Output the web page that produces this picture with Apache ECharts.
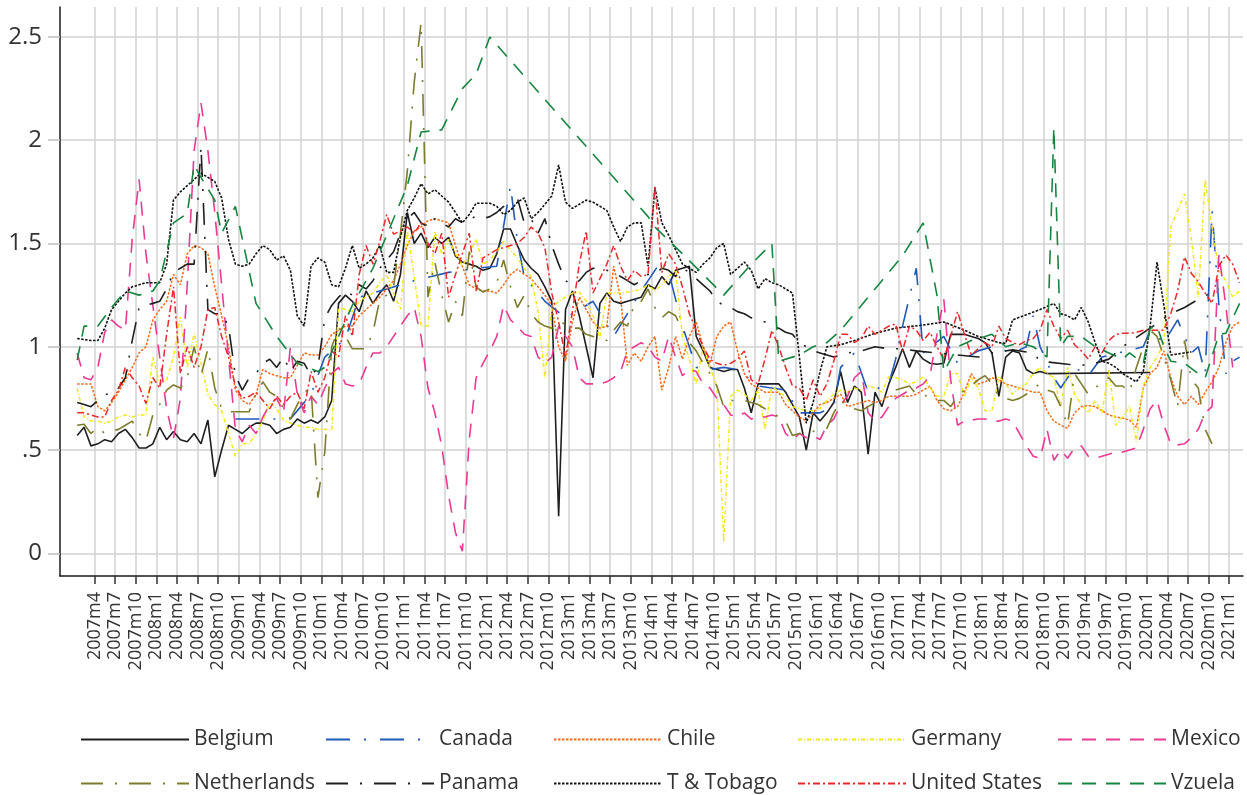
<!DOCTYPE html>
<html>
<head>
<meta charset="utf-8">
<script src="https://cdn.jsdelivr.net/npm/echarts@6/dist/echarts.min.js"></script>
<style>
  html, body { margin: 0; padding: 0; background: #fff; }
  #chart { width: 1247px; height: 795px; }
</style>
</head>
<body>
<div id="chart"></div>
<script>
const N = null
// monthly values, first entry = 2007m1, one row per year
const belgium = [
  0.57, 0.61, 0.52, 0.53, 0.55, 0.54, 0.58, 0.60, 0.56, 0.51, 0.51, 0.53,
  0.61, 0.55, 0.59, 0.55, 0.54, 0.58, 0.53, 0.645, 0.37, 0.50, 0.62, 0.60,
  0.58, 0.61, 0.63, 0.63, 0.62, 0.58, 0.60, 0.61, 0.65, 0.63, 0.645, 0.63,
  0.66, 0.74, 1.21, 1.25, 1.22, 1.17, 1.27, 1.21, 1.26, 1.30, 1.22, 1.35,
  1.65, 1.50, 1.55, 1.48, 1.53, 1.50, 1.53, 1.44, 1.41, 1.40, 1.39, 1.37,
  1.38, 1.45, 1.57, 1.57, 1.49, 1.42, 1.38, 1.35, 1.29, 1.22, 0.18, 1.18,
  1.27, 1.15, 1.00, 0.85, 1.21, 1.26, 1.22, 1.21, 1.22, 1.23, 1.24, 1.30,
  1.28, 1.34, 1.30, 1.37, 1.38, 1.39, 1.05, 0.98, 0.90, 0.89, 0.88, 0.89,
  0.89, 0.80, 0.68, 0.82, 0.82, 0.82, 0.82, 0.78, 0.72, 0.66, 0.50, 0.68,
  0.64, 0.68, 0.73, 0.88, 0.73, 0.81, 0.78, 0.48, 0.78, 0.71, 0.82, 0.90,
  0.99, 0.90, 0.98, 0.94, 0.92, 0.915, 0.92, 1.06, 1.06, 1.06, 1.05, 1.04,
  1.02, 0.97, 0.76, 0.95, 0.98, 0.97, 0.89, 0.87, 0.88, 0.87, N, N,
  N, N, N, N, N, N, N, N, N, N, N, N,
  0.875, N, N, N, N, N, N, N, N, N, N, N,
  N, N
]
const canada = [
  N, N, N, N, N, N, N, N, N, N, N, N,
  N, N, N, N, N, N, N, N, N, N, N, 0.65,
  N, N, N, 0.65, N, N, N, 0.65, N, N, 0.77, N,
  0.95, N, N, 1.04, N, 1.24, N, N, 1.27, N, N, N,
  N, 1.32, N, N, N, N, 1.36, N, N, N, 1.38, N,
  N, 1.39, N, 1.78, 1.51, 1.34, N, N, 1.22, N, N, 1.14,
  N, N, N, 1.22, N, N, 1.05, N, N, N, 1.27, 1.32,
  N, 1.42, 1.36, N, 1.10, N, 0.90, N, 0.89, N, 0.90, N,
  0.89, N, N, 0.81, N, N, N, 0.79, N, 0.68, N, N,
  0.68, N, 0.71, 0.90, N, 0.97, N, 0.78, N, N, 0.82, 0.94,
  1.10, N, 1.38, 0.97, N, N, 1.05, N, 0.92, N, N, 0.98,
  N, 1.00, N, N, 0.97, N, 1.00, 1.15, 1.00, N, 0.85, 0.80,
  N, 0.90, N, 0.86, N, 0.95, N, N, N, N, N, 1.00,
  1.08, N, 1.02, N, 1.13, N, 0.97, 1.00, 0.87, 1.66, 1.20, 0.87,
  0.93, 0.95
]
const chile = [
  0.82, 0.82, 0.82, 0.71, 0.69, 0.73, 0.78, 0.84, 0.90, 0.97, 1.00, 1.13,
  1.18, 1.22, 1.35, 1.30, 1.45, 1.49, 1.48, 1.45, 1.29, 1.15, 1.00, 0.79,
  0.74, 0.72, 0.77, 0.89, 0.87, 0.86, 0.85, 0.85, 0.91, 0.97, 0.96, 0.96,
  1.00, 1.06, 1.08, 1.10, 1.10, 1.15, 1.18, 1.21, 1.24, 1.28, 1.32, 1.40,
  1.49, 1.56, 1.58, 1.61, 1.62, 1.61, 1.60, 1.49, 1.39, 1.30, 1.28, 1.27,
  1.27, 1.26, 1.30, 1.35, 1.375, 1.35, 1.33, 1.29, 1.25, 1.20, 1.00, 0.93,
  1.12, 1.24, 1.18, 1.12, 1.09, 1.10, 1.39, 1.24, 0.91, 0.97, 0.93, 1.00,
  1.05, 0.79, 0.90, 1.05, 0.94, 1.05, 1.12, 1.00, 0.92, 1.05, 1.10, 1.12,
  0.98, 0.87, 0.82, 0.80, 0.78, 0.78, 0.78, 0.72, 0.69, 0.66, 0.64, 0.68,
  0.72, 0.73, 0.75, 0.77, 0.71, 0.72, 0.73, 0.74, 0.73, 0.74, 0.76, 0.76,
  0.76, 0.76, 0.77, 0.79, 0.81, 0.74, 0.70, 0.69, 0.71, 0.78, 0.87, 0.82,
  0.83, 0.85, 0.84, 0.82, 0.81, 0.80, 0.79, 0.78, 0.78, 0.69, 0.64, 0.62,
  0.605, 0.68, 0.71, 0.716, 0.71, 0.69, 0.67, 0.66, 0.655, 0.645, 0.61, 0.80,
  0.87, 0.90, 0.98, 0.85, 0.76, 0.72, 0.76, 0.72, 0.78, 0.83, 0.90, 1.02,
  1.10, 1.12
]
const germany = [
  0.80, 0.66, 0.64, 0.64, 0.63, 0.64, 0.66, 0.67, 0.66, 0.67, 0.67, 0.95,
  0.82, 0.84, 0.95, 1.145, 0.90, 1.065, 0.92, 0.77, 0.72, 0.69, 0.58, 0.47,
  0.53, 0.53, 0.58, 0.64, 0.73, 0.70, 0.645, 0.63, 0.62, 0.61, 0.61, 0.60,
  0.60, 0.595, 1.19, 1.18, 1.17, 1.22, 1.24, 1.26, 1.31, 1.35, 1.26, 1.18,
  1.56, 1.34, 1.10, 1.10, 1.56, 1.45, 1.52, 1.45, 1.39, 1.45, 1.52, 1.40,
  1.42, 1.46, 1.51, 1.47, 1.43, 1.38, 1.34, 1.17, 0.85, 1.19, 1.22, 1.24,
  1.26, 1.265, 1.22, 1.15, 1.04, 1.26, 1.26, 1.26, 1.265, 1.27, 1.28, 1.30,
  1.27, 1.30, 1.34, 1.37, 1.05, 0.94, 0.82, 1.00, 0.90, 0.81, 0.056, 0.76,
  0.79, 0.77, 0.74, 0.79, 0.60, 0.81, 0.78, 0.76, 0.71, 0.70, 0.69, 0.69,
  0.70, 0.74, 0.77, 0.79, 0.78, 0.80, 0.79, 0.81, 0.80, 0.78, 0.855, 0.85,
  0.84, 0.82, 0.83, 0.855, 0.80, 0.76, 0.76, 0.87, 0.87, 0.76, 0.85, 0.80,
  0.69, 0.69, 0.855, 0.82, 0.77, 0.80, 0.82, 0.87, 0.90, 0.87, 0.85, 0.71,
  0.90, 0.77, 0.72, 0.68, 0.74, 0.68, 0.89, 0.62, 0.66, 0.71, 0.54, 0.81,
  0.90, 0.95, 1.02, 1.58, 1.66, 1.74, 1.52, 1.24, 1.81, 1.58, 1.37, 1.32,
  1.24, 1.27
]
const mexico = [
  0.97, 0.85, 0.84, 0.90, 1.07, 1.13, 1.10, 1.08, 1.52, 1.81, 1.45, 1.20,
  0.95, 0.70, 0.555, 0.75, 1.30, 1.95, 2.18, 1.95, 1.65, 1.30, 0.95, 0.60,
  0.54, 0.62, 0.58, 0.66, 0.72, 0.75, 0.68, 1.00, 0.77, 0.68, 0.76, 0.72,
  0.80, 0.87, 0.90, 0.82, 0.81, 0.82, 0.90, 0.97, 0.97, 1.00, 1.05, 1.10,
  1.15, 1.19, 1.05, 0.80, 0.68, 0.52, 0.28, 0.10, 0.01, 0.55, 0.85, 0.92,
  0.98, 1.05, 1.20, 1.13, 1.10, 1.06, 1.05, 0.95, 0.92, 0.95, 1.10, 1.05,
  1.00, 0.85, 0.82, 0.82, 0.82, 0.83, 0.85, 0.88, 0.98, 1.00, 1.02, 1.00,
  0.95, 0.93, 1.05, 0.95, 0.86, 0.89, 0.88, 0.82, 0.80, 0.75, 0.72, 0.67,
  0.66, 0.68, 0.65, 0.66, 0.66, 0.67, 0.66, 0.58, 0.55, 0.58, 0.56, 0.57,
  0.55, 0.62, 0.65, 0.72, 0.76, 0.85, 0.88, 0.68, 0.64, 0.66, 0.71, 0.75,
  0.77, 0.79, 0.80, 0.82, 0.86, 1.06, 1.23, 0.84, 0.62, 0.64, 0.645, 0.65,
  0.65, 0.64, 0.64, 0.65, 0.64, 0.58, 0.52, 0.47, 0.46, 0.60, 0.45, 0.50,
  0.46, 0.51, 0.52, 0.47, 0.46, 0.47, 0.48, 0.49, 0.49, 0.50, 0.51, 0.60,
  0.70, 0.74, 0.62, 0.53, 0.525, 0.53, 0.56, 0.60, 0.68, 0.71, 1.45, 1.20,
  0.90, N
]
const netherlands = [
  0.62, 0.625, 0.58, 0.61, 0.58, 0.59, 0.60, 0.62, 0.64, 0.58, 0.545, 0.67,
  0.72, 0.79, 0.815, 0.80, 0.85, 1.00, 0.86, 0.99, 0.80, 0.70, 0.685, 0.685,
  0.685, 0.685, 0.77, 0.83, 0.78, 0.76, 0.70, 0.65, 0.72, 0.78, 0.80, 0.27,
  0.49, 1.00, 1.09, 1.05, 0.99, 0.99, 0.99, 1.07, 1.23, 1.25, 1.29, 1.55,
  1.85, 2.28, 2.57, 1.24, 1.41, 1.25, 1.12, 1.22, 1.15, 1.46, 1.29, 1.265,
  1.28, 1.31, 1.42, 1.29, 1.19, 1.25, 1.16, 1.12, 1.10, 1.09, 1.12, 1.11,
  1.09, 1.09, 1.06, 1.05, 1.045, 1.03, 1.08, 1.12, 1.10, 1.205, 1.22, 1.28,
  1.19, 1.14, 1.17, 1.15, 1.08, 1.02, 0.98, 0.92, 0.87, 0.81, 0.71, 0.74,
  0.74, 0.74, 0.73, 0.72, 0.70, 0.68, 0.66, 0.64, 0.57, 0.58, 0.58, 0.59,
  0.60, 0.605, 0.68, 0.74, 0.71, 0.70, 0.69, 0.71, 0.73, 0.75, 0.76, 0.79,
  0.80, 0.81, 0.77, 0.77, 0.75, 0.74, 0.74, 0.71, 0.76, 0.79, 0.81, 0.84,
  0.86, 0.82, 0.76, 0.75, 0.74, 0.75, 0.77, 0.80, 0.82, 0.79, 0.78, 0.71,
  0.62, 0.87, 0.82, 0.77, 0.80, 0.83, 0.85, 0.81, 0.81, 0.78, 0.90, 1.00,
  1.08, 1.05, 0.95, 0.84, 0.71, 1.03, 0.84, 0.80, 0.60, 0.53, N, N,
  N, N
]
const panama = [
  0.73, 0.72, 0.71, 0.74, 0.77, 0.77, 0.80, 0.85, 1.03, 1.19, 1.20, 1.21,
  1.22, 1.28, 1.36, 1.38, 1.40, 1.40, 1.97, 1.18, 1.16, 1.16, 1.10, 0.86,
  0.79, 0.85, 0.87, 0.92, 0.94, 0.90, 0.95, 0.88, 0.93, 0.92, 0.86, 0.90,
  1.14, 1.20, 1.24, 1.27, 1.25, 1.30, 1.28, 1.32, 1.38, 1.42, 1.46, 1.55,
  1.62, 1.65, 1.60, 1.58, 1.62, 1.60, 1.58, 1.62, 1.60, 1.62, 1.63, 1.62,
  1.63, 1.65, 1.68, 1.65, 1.72, 1.60, 1.62, 1.55, 1.62, 1.49, 1.40, 1.32,
  1.30, 1.32, 1.36, 1.38, 1.38, 1.37, 1.36, 1.34, 1.32, 1.30, 1.32, 1.35,
  1.35, 1.38, 1.37, 1.34, 1.38, 1.36, 1.33, 1.30, 1.27, 1.22, 1.20, 1.19,
  1.17, 1.16, 1.14, 1.13, 1.12, 1.10, 1.09, 1.07, 1.06, 1.02, 1.00, 0.98,
  0.97, N, 0.95, N, 0.97, N, 0.98, N, 1.00, N, 0.99, N,
  0.99, N, 0.98, N, N, 0.97, N, N, 0.96, N, N, 0.95,
  N, 0.97, N, N, 0.985, N, N, 0.97, 0.93, N, N, N,
  0.915, N, N, 0.91, N, N, 0.94, N, 1.00, N, N, N,
  1.09, N, N, 1.16, N, 1.19, N, 1.23, N, N, 1.28, N,
  N, N
]
const tTobago = [
  1.04, 1.035, 1.03, 1.03, 1.09, 1.18, 1.22, 1.26, 1.29, 1.30, 1.31, 1.31,
  1.31, 1.40, 1.71, 1.75, 1.78, 1.81, 1.84, 1.82, 1.80, 1.72, 1.52, 1.40,
  1.39, 1.40, 1.45, 1.49, 1.47, 1.42, 1.44, 1.37, 1.15, 1.10, 1.39, 1.43,
  1.41, 1.30, 1.29, 1.38, 1.49, 1.38, 1.40, 1.43, 1.49, 1.36, 1.36, 1.53,
  1.66, 1.72, 1.79, 1.74, 1.76, 1.73, 1.70, 1.65, 1.60, 1.64, 1.695, 1.695,
  1.695, 1.68, 1.64, 1.66, 1.70, 1.72, 1.62, 1.65, 1.69, 1.73, 1.88, 1.70,
  1.67, 1.69, 1.71, 1.70, 1.68, 1.66, 1.58, 1.51, 1.58, 1.60, 1.60, 1.39,
  1.77, 1.60, 1.54, 1.47, 1.40, 1.38, 1.36, 1.40, 1.43, 1.48, 1.50, 1.35,
  1.38, 1.41, 1.37, 1.28, 1.33, 1.31, 1.30, 1.28, 1.26, 0.95, 0.63, 0.73,
  0.88, 1.00, N, 1.01, N, 1.03, N, N, 1.065, N, N, 1.09,
  N, N, N, 1.105, N, N, 1.12, N, N, 1.08, N, 1.05,
  N, N, 1.02, 1.016, 1.13, N, 1.155, N, 1.18, N, 1.21, 1.16,
  1.15, 1.13, 1.19, 1.12, 1.02, 0.93, 0.92, 0.90, 0.87, 0.85, 0.83, 0.88,
  1.10, 1.41, 1.20, 0.96, N, N, 0.975, N, N, N, N, N,
  N, N
]
const unitedStates = [
  0.68, 0.68, 0.67, 0.66, 0.66, 0.74, 0.79, 0.90, 0.85, 0.81, 0.725, 0.85,
  0.80, 1.06, 1.29, 0.87, 1.00, 0.90, 1.00, 1.18, 1.19, 1.05, 0.95, 0.81,
  0.75, 0.76, 0.78, 0.74, 0.70, 0.76, 0.72, 0.76, 0.78, 0.70, 0.88, 0.78,
  0.85, 0.98, 0.95, 1.15, 1.05, 1.35, 1.49, 1.40, 1.51, 1.64, 1.545, 1.56,
  1.58, 1.55, 1.60, 1.50, 1.45, 1.55, 1.24, 1.35, 1.45, 1.55, 1.27, 1.43,
  1.45, 1.47, 1.48, 1.49, 1.50, 1.53, 1.58, 1.55, 1.48, 1.26, 1.12, 0.95,
  1.17, 1.40, 1.56, 1.26, 1.33, 1.40, 1.49, 1.39, 1.32, 1.37, 1.34, 1.35,
  1.78, 1.36, 1.45, 1.40, 1.29, 1.16, 1.08, 1.00, 0.94, 0.92, 0.91, 0.92,
  0.94, 0.98, 0.84, 0.82, 0.94, 1.08, 1.00, 0.90, 0.81, 0.80, 0.74, 0.84,
  0.76, 0.82, 0.93, 1.06, 1.06, 1.02, 1.04, 1.10, 1.06, 1.08, 1.10, 1.11,
  0.98, 1.10, 1.08, 1.03, 1.07, 1.00, 0.94, 1.05, 1.17, 1.06, 0.96, 0.99,
  1.02, 1.00, 1.10, 1.04, 1.02, 1.01, 1.03, 1.04, 1.08, 1.18, 1.10, 1.04,
  1.08, 1.01, 0.98, 0.94, 1.00, 0.97, 1.03, 1.06, 1.065, 1.065, 1.07, 1.08,
  1.08, 1.08, 1.08, 1.16, 1.27, 1.435, 1.355, 1.315, 1.26, 1.21, 1.39, 1.445,
  1.40, 1.31
]
const vzuela = [
  0.935, 1.10, N, 1.10, N, 1.19, N, 1.27, N, 1.25, N, 1.27,
  1.32, N, 1.60, N, 1.645, 1.88, 1.82, N, 1.71, 1.55, N, 1.68,
  N, N, 1.21, N, N, 1.05, N, N, 0.92, N, N, 0.88,
  0.90, N, N, N, 1.20, N, N, 1.38, N, N, 1.62, N,
  1.78, N, 2.04, N, N, 2.05, N, N, 2.25, N, 2.32, N,
  2.50, N, N, N, N, N, N, N, N, N, N, N,
  N, N, N, N, N, N, N, N, N, N, N, 1.63,
  1.58, N, N, N, 1.45, N, N, 1.35, N, N, 1.25, N,
  N, N, 1.40, N, N, 1.50, 0.93, N, N, 0.96, N, 1.00,
  N, 1.02, N, 1.08, N, N, 1.20, N, N, 1.32, N, N,
  1.44, N, N, 1.60, N, 1.25, 0.88, N, 1.00, N, 1.03, N,
  1.05, 1.06, N, 1.00, N, 1.02, N, 1.00, N, 0.95, 2.06, 1.00,
  1.05, N, 1.05, N, 1.00, N, 0.97, N, 0.94, 0.97, N, 0.92,
  1.09, 1.10, 1.00, 0.93, N, 0.92, N, 0.87, 0.85, N, 1.06, 1.065,
  N, 1.21
]

const countries = ['Belgium', 'Canada', 'Chile', 'Germany', 'Mexico',
  'Netherlands', 'Panama', 'T & Tobago', 'United States', 'Vzuela']
const values = [belgium, canada, chile, germany, mexico,
  netherlands, panama, tTobago, unitedStates, vzuela]

const yTicks = [0, 0.5, 1, 1.5, 2, 2.5]
// tick months counted from 2007m1: 2007m4 ... 2021m1 every quarter
const xTicks = []
for (let m = 3; m <= 168; m += 3) xTicks.push(m)
const monthLabel = m => (2007 + Math.floor(m / 12)) + 'm' + (m % 12 + 1)

const lineStyles = [
  { color: '#1f1f1f', width: 1.6, type: 'solid' },
  { color: '#2159b8', width: 1.6, type: [24, 14, 2, 14] },
  { color: '#f36c1d', width: 1.5, type: [2.5, 1.5] },
  { color: '#f2e71a', width: 1.5, type: [4, 2, 1, 2] },
  { color: '#ea3a93', width: 1.6, type: [14, 10] },
  { color: '#7c7c2c', width: 1.6, type: [22, 12, 2, 12] },
  { color: '#1f1f1f', width: 1.6, type: [22, 12, 2, 12] },
  { color: '#111111', width: 1.6, type: [2.5, 1.5] },
  { color: '#e8282b', width: 1.5, type: [7, 3, 2, 3] },
  { color: '#168540', width: 1.6, type: [14, 10] }
]

const legendLeft = [80, 325, 553, 797, 1057]
const legendTop = [729, 773]
const font = 'Open Sans'

const chart = echarts.init(document.getElementById('chart'), null, { renderer: 'canvas' })

chart.setOption({
  animation: false,
  backgroundColor: '#fff',
  grid: { left: 60, right: 4, top: 7, bottom: 219 },
  legend: countries.map((name, i) => ({
    data: [name],
    left: legendLeft[i % 5],
    top: legendTop[Math.floor(i / 5)],
    padding: 0,
    itemWidth: 108,
    itemHeight: 14,
    selectedMode: false,
    itemStyle: { opacity: 0 },
    textStyle: { fontFamily: font, fontSize: 21, color: '#333' }
  })),
  xAxis: {
    type: 'value',
    min: -2,
    max: 170,
    axisLine: { show: true, onZero: false, lineStyle: { color: '#1a1a1a', width: 1.5 } },
    axisTick: { show: true, customValues: xTicks, length: 8, lineStyle: { color: '#333', width: 1.5 } },
    axisLabel: {
      customValues: xTicks,
      rotate: 90,
      margin: 16,
      formatter: v => monthLabel(v),
      fontFamily: font,
      fontSize: 18,
      color: '#333'
    },
    splitLine: { show: true, lineStyle: { color: '#d2d2d2', width: 1.5 } }
  },
  yAxis: {
    type: 'value',
    min: -0.11,
    max: 2.645,
    axisLine: { show: true, onZero: false, lineStyle: { color: '#1a1a1a', width: 1.5 } },
    axisTick: { show: true, customValues: yTicks, length: 12, lineStyle: { color: '#bdbdbd', width: 1.5 } },
    axisLabel: {
      customValues: yTicks,
      margin: 18,
      formatter: v => (v === 0.5 ? '.5' : String(v)),
      fontFamily: font,
      fontSize: 24,
      color: '#333'
    },
    splitLine: { show: true, lineStyle: { color: '#d2d2d2', width: 1.5 } }
  },
  series: countries.map((name, i) => ({
    name: name,
    type: 'line',
    symbol: 'none',
    connectNulls: true,
    emphasis: { disabled: true },
    lineStyle: lineStyles[i],
    itemStyle: { color: lineStyles[i].color },
    // observations are dated mid-month
    data: values[i].map((v, m) => [m + 0.5, v])
  }))
})
</script>
</body>
</html>
